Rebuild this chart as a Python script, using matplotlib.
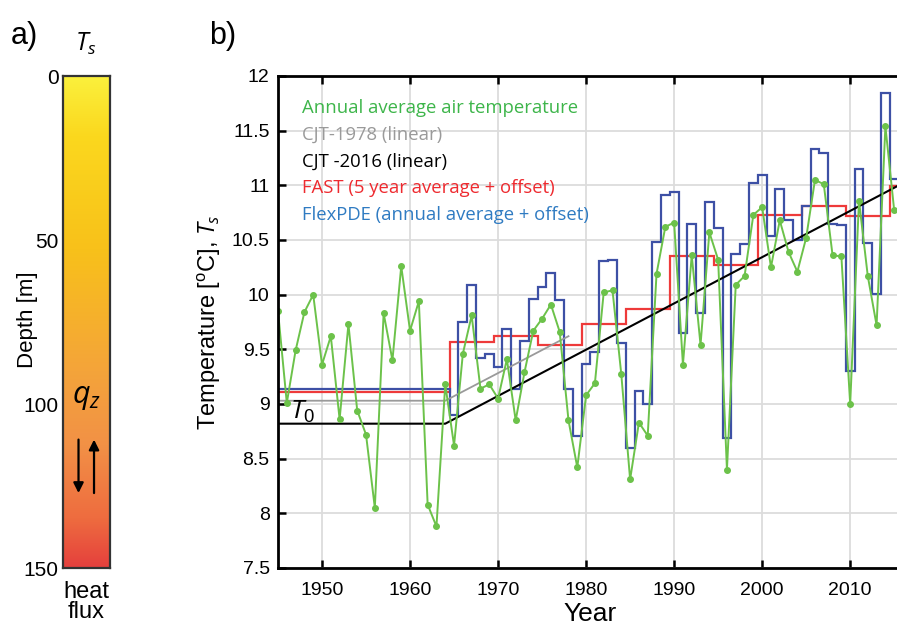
import numpy as np
import matplotlib
matplotlib.use('Agg')
import matplotlib.pyplot as plt
from matplotlib.colors import LinearSegmentedColormap

plt.rcParams['font.family'] = ['Liberation Sans', 'DejaVu Sans']
plt.rcParams['mathtext.fontset'] = 'custom'
plt.rcParams['mathtext.rm'] = 'Liberation Sans'
plt.rcParams['mathtext.it'] = 'Open Sans:italic'

# annual average air temperature, 1945-2015
years = np.arange(1945, 2016)
air_temp = [9.85, 9.01, 9.49, 9.84, 10.00, 9.36, 9.62, 8.86, 9.73, 8.94,
            8.72, 8.05, 9.83, 9.40, 10.26, 9.67, 9.94, 8.08, 7.88, 9.18,
            8.62, 9.46, 9.81, 9.14, 9.18, 9.05, 9.41, 8.85, 9.29, 9.67,
            9.78, 9.91, 9.66, 8.85, 8.42, 9.08, 9.19, 10.02, 10.04, 9.27,
            8.31, 8.83, 8.71, 10.19, 10.62, 10.66, 9.36, 10.36, 9.54, 10.57,
            10.32, 8.40, 10.09, 10.17, 10.73, 10.80, 10.25, 10.68, 10.39, 10.21,
            10.52, 11.05, 11.01, 10.36, 10.35, 9.00, 10.86, 10.17, 9.72, 11.54,
            10.77]

# FlexPDE: constant T0 before 1964.5, then annual steps 1965-2015
flex_t0 = 9.14
flex_years = np.arange(1965, 2016)
flex_vals = [8.90, 9.75, 10.09, 9.42, 9.46, 9.34, 9.69, 9.14, 9.58, 9.96,
             10.07, 10.20, 9.95, 9.14, 8.71, 9.37, 9.48, 10.31, 10.32, 9.56,
             8.60, 9.12, 9.00, 10.48, 10.91, 10.94, 9.65, 10.65, 9.83, 10.85,
             10.61, 8.69, 10.37, 10.46, 11.02, 11.09, 10.54, 10.97, 10.68, 10.50,
             10.81, 11.33, 11.30, 10.65, 10.64, 9.30, 11.15, 10.47, 10.01, 11.84,
             11.06]

# FAST: 5 year averages + offset
fast_edges = [1945, 1964.5, 1969.5, 1974.5, 1979.5, 1984.5, 1989.5,
              1994.5, 1999.5, 2004.5, 2009.5, 2014.5, 2016]
fast_vals = [9.11, 9.57, 9.62, 9.54, 9.73, 9.87, 10.35, 10.27, 10.73,
             10.81, 10.72, 10.99]

# linear CJT models
cjt78_x = [1945, 1964, 1978]
cjt78_y = [9.03, 9.03, 9.62]
cjt16_x = [1945, 1964, 2016]
cjt16_y = [8.82, 8.82, 11.02]

W, H = 897, 627
fig = plt.figure(figsize=(W / 100, H / 100), dpi=100)


def fx(px):
    return px / W


def fy(py):
    return 1 - py / H


# ---- panel a) ----
ax_a = fig.add_axes([fx(63), fy(568), fx(110) - fx(63), fy(76) - fy(568)])
cmap = LinearSegmentedColormap.from_list('heat', [
    (0.0, '#faf03c'), (0.12, '#fbd81e'), (0.35, '#f8c11a'),
    (0.6, '#f4a43a'), (0.75, '#f29146'), (0.9, '#ee6c3f'), (1.0, '#e5403d')])
grad = np.linspace(0, 1, 256).reshape(-1, 1)
ax_a.imshow(grad, cmap=cmap, aspect='auto', extent=[0, 1, 150, 0])
ax_a.set_xlim(0, 1)
ax_a.set_ylim(150, 0)
ax_a.set_xticks([])
ax_a.set_yticks([0, 50, 100, 150])
ax_a.tick_params(axis='y', length=0, labelsize=15, pad=3)
for sp in ax_a.spines.values():
    sp.set_color('#333333')
    sp.set_linewidth(1.6)
ax_a.text(0.5, 98, '$q_z$', ha='center', va='center', fontsize=22)
ax_a.annotate('', xy=(0.33, 128), xytext=(0.33, 110),
              arrowprops=dict(arrowstyle='-|>', color='black', lw=1.6,
                              mutation_scale=15))
ax_a.annotate('', xy=(0.66, 110), xytext=(0.66, 128),
              arrowprops=dict(arrowstyle='-|>', color='black', lw=1.6,
                              mutation_scale=15))

fig.text(fx(28), fy(320), 'Depth [m]', rotation=90, ha='center', va='center',
         fontsize=16)
fig.text(fx(86), fy(44), '$T_s$', ha='center', va='center', fontsize=18)
fig.text(fx(86), fy(602), 'heat\nflux', ha='center', va='center',
         fontsize=17, linespacing=0.9)
fig.text(fx(24), fy(36), 'a)', ha='center', va='center', fontsize=22)
fig.text(fx(223), fy(36), 'b)', ha='center', va='center', fontsize=22)

# ---- panel b) ----
ax = fig.add_axes([fx(278), fy(568), fx(903) - fx(278), fy(76) - fy(568)])
ax.set_xlim(1945, 2016)
ax.set_ylim(7.5, 12)
ax.set_xticks(np.arange(1950, 2011, 10))
ax.set_yticks(np.arange(7.5, 12.01, 0.5))
ax.set_yticklabels(['%g' % v for v in np.arange(7.5, 12.01, 0.5)])
ax.grid(True, color='#dcdcdc', lw=1.3)
ax.set_axisbelow(True)
ax.tick_params(direction='in', length=6, width=1.8, labelsize=14,
               top=True, right=False)
ax.tick_params(axis='x', pad=10)
ax.tick_params(axis='y', pad=6)
for side in ['left', 'bottom', 'top']:
    ax.spines[side].set_linewidth(2)
ax.spines['right'].set_visible(False)

ax.plot(cjt16_x, cjt16_y, color='black', lw=1.5)
ax.plot(cjt78_x, cjt78_y, color='#9a9a9a', lw=1.3)
ax.stairs(fast_vals, fast_edges, baseline=None, color='#ee3a3a', lw=1.6)
flex_edges = np.concatenate([[1945], flex_years - 0.5, [flex_years[-1] + 0.5]])
ax.stairs([flex_t0] + flex_vals, flex_edges, baseline=None,
          color='#3d50a5', lw=1.6)
ax.plot(years, air_temp, color='#6cc24a', lw=1.4, marker='o', ms=4)

ax.text(1946.4, 8.93, '$T_0$', fontsize=19, ha='left', va='center')

legend_items = [('Annual average air temperature', '#3db54a'),
                ('CJT-1978 (linear)', '#9a9a9a'),
                ('CJT -2016 (linear)', 'black'),
                ('FAST (5 year average + offset)', '#ee2a2f'),
                ('FlexPDE (annual average + offset)', '#2f7bc2')]
for i, (label, col) in enumerate(legend_items):
    ax.text(fx(302), fy(108 + i * 26.7), label, color=col, fontsize=13.3,
            family=['Open Sans', 'DejaVu Sans'], ha='left', va='center',
            transform=fig.transFigure)

ax.set_xlabel('Year', fontsize=19, labelpad=2)
ax.set_ylabel('Temperature [$^{\\mathrm{o}}$C], $T_s$', fontsize=17,
              labelpad=6)

fig.savefig('out.png', dpi=100)
